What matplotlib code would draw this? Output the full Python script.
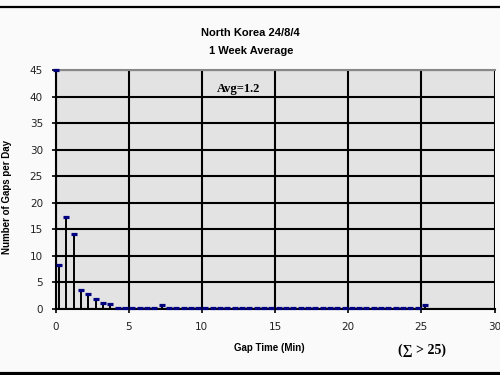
import numpy as np
import matplotlib.pyplot as plt

# gap time bins (min) and average gaps per day
first_x = [0.0]
first_y = [45.0]
gap_time = [0.25, 0.75, 1.25, 1.75, 2.25, 2.75, 3.25, 3.75,
            4.25, 4.75, 5.25, 5.75, 6.25, 6.75, 7.25, 7.75, 8.25, 8.75,
            9.25, 9.75, 10.25, 10.75, 11.25, 11.75, 12.25, 12.75, 13.25, 13.75,
            14.25, 14.75, 15.25, 15.75, 16.25, 16.75, 17.25, 17.75, 18.25, 18.75,
            19.25, 19.75, 20.25, 20.75, 21.25, 21.75, 22.25, 22.75, 23.25, 23.75,
            24.25, 24.75, 25.25]
gaps_per_day = [8.3, 17.4, 14.1, 3.5, 2.8, 1.9, 1.1, 0.9,
                0.1, 0.1, 0.1, 0.1, 0.1, 0.1, 0.7, 0.1, 0.1, 0.1,
                0.1, 0.1, 0.1, 0.1, 0.1, 0.1, 0.1, 0.1, 0.1, 0.1,
                0.1, 0.1, 0.1, 0.1, 0.1, 0.1, 0.1, 0.1, 0.1, 0.1,
                0.1, 0.1, 0.1, 0.1, 0.1, 0.1, 0.1, 0.1, 0.1, 0.1,
                0.1, 0.1, 0.8]

x = np.array(first_x + gap_time)
y = np.array(first_y + gaps_per_day)

fig = plt.figure(figsize=(5, 3.75), dpi=100, facecolor="#fafafa")
ax = fig.add_axes([0.111, 0.176, 0.878, 0.637])
ax.set_facecolor("#e3e3e3")

ax.set_xlim(0, 30)
ax.set_ylim(0, 45)
ax.set_xticks(np.arange(0, 31, 5))
ax.set_yticks(np.arange(0, 46, 5))
ax.grid(True, color="black", lw=1.5, zorder=1)
ax.set_axisbelow(True)

ax.spines["right"].set_visible(False)
ax.spines["top"].set_color("#888888")
ax.spines["top"].set_linewidth(1.5)
ax.spines["left"].set_linewidth(1.5)
ax.spines["bottom"].set_linewidth(1.5)

ax.tick_params(axis="both", length=3, width=1.2, labelsize=7.5,
               labelcolor="#222222", pad=6)

ax.vlines(x, 0, y, colors="black", lw=1.4, zorder=3)
ax.plot(x, y, ls="none", marker="_", ms=4.5, mew=2.3, color="#000080",
        zorder=4, clip_on=False)

ax.text(12.5, 41.5, "Avg=1.2", family="Liberation Serif", fontweight="bold",
        fontsize=9, ha="center", va="center")

fig.text(0.5, 0.913, "North Korea 24/8/4", ha="center", va="center",
         fontsize=8, fontweight="bold", family="Liberation Sans")
fig.text(0.503, 0.865, "1 Week Average", ha="center", va="center",
         fontsize=8, fontweight="bold", family="Liberation Sans")
fig.text(0.538, 0.073, "Gap Time (Min)", ha="center", va="center",
         fontsize=7, fontweight="bold", family="Liberation Sans")
fig.text(0.014, 0.475, "Number of Gaps per Day", rotation=90, ha="center",
         va="center", fontsize=7, fontweight="bold", family="Liberation Sans")
fig.text(0.843, 0.067, "(\u2211 > 25)", ha="center", va="center",
         fontsize=10, fontweight="bold", family="Liberation Serif")

# frame lines at top and bottom of the slide
fig.add_artist(plt.Line2D([0, 1], [0.981, 0.981], color="black", lw=1.6,
                          transform=fig.transFigure))
fig.add_artist(plt.Line2D([0, 1], [0.003, 0.003], color="black", lw=3,
                          transform=fig.transFigure))

fig.savefig("out.png", dpi=100, facecolor=fig.get_facecolor())
